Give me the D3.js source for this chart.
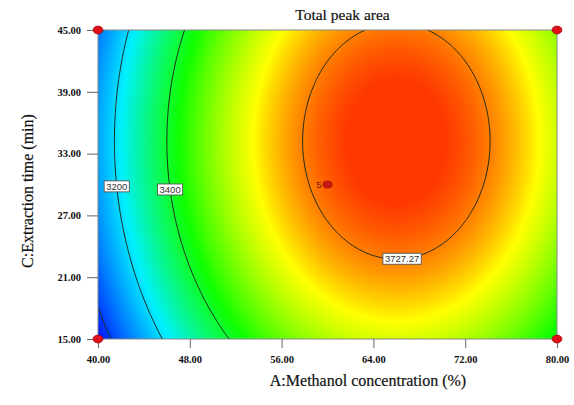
<!DOCTYPE html>
<html>
<head>
<meta charset="utf-8">
<script src="https://cdn.jsdelivr.net/npm/d3@7"></script>
<style>
  body { margin: 0; background: #fff; }
  .tick text { font-family: "Liberation Serif", serif; font-weight: bold; font-size: 10.5px; fill: #111; }
</style>
</head>
<body>
<div class="chart"></div>
<script>
// Axis ranges and ticks
const aRange = [40, 80];
const cRange = [15, 45];
const xTicks = [40, 48, 56, 64, 72, 80];
const yTicks = [15, 21, 27, 33, 39, 45];

// Quadratic response model for total peak area (terms: 1, A, C, A², C², AC)
const modelTerms = ["1", "A", "C", "A2", "C2", "AC"];
const modelCoefs = [-1069.61, 129.624, 34.2, -0.982, -0.5, 0];

// Contour levels and where their labels sit
const levels = [3000, 3200, 3400, 3727.27];
const labelLevels = [3200, 3400, 3727.27];
const labelText = ["3200", "3400", "3727.27"];
const labelAt = [{ C: 29.8 }, { C: 29.5 }, { A: 66.5 }];

// colour ramp: blue, cyan, green, yellow, red at these response levels
const rampLevels = [2945, 3225, 3440, 3640, 3775];
const rampColors = ["#0010ff", "#00f0ff", "#10ff00", "#ffff00", "#ff3800"];

// Design points
const designA = [40, 40, 80, 80, 60];
const designC = [15, 45, 15, 45, 30];
const designLabel = ["", "", "", "", "5"];

const W = 574, H = 405;
const margin = { top: 30, right: 17, bottom: 66, left: 98 };
const width = W - margin.left - margin.right;
const height = H - margin.top - margin.bottom;

function model(a, c) {
  const b = modelCoefs;
  return b[0] + b[1] * a + b[2] * c + b[3] * a * a + b[4] * c * c + b[5] * a * c;
}

const x = d3.scaleLinear().domain(aRange).range([0, width]);
const y = d3.scaleLinear().domain(cRange).range([height, 0]);

const svg = d3.select(".chart").append("svg")
  .attr("width", W).attr("height", H)
  .append("g")
  .attr("transform", `translate(${margin.left},${margin.top})`);

// sample grid
const nx = 201, ny = 151;
const stepA = (aRange[1] - aRange[0]) / (nx - 1);
const stepC = (cRange[1] - cRange[0]) / (ny - 1);
const grid = new Float64Array(nx * ny);
for (let j = 0; j < ny; j++) {
  for (let i = 0; i < nx; i++) {
    grid[j * nx + i] = model(aRange[0] + i * stepA, cRange[0] + j * stepC);
  }
}

const color = d3.scaleLinear()
  .domain(rampLevels)
  .range(rampColors)
  .clamp(true);

// colour field painted on a canvas, then put in the svg
const canvas = document.createElement("canvas");
canvas.width = Math.round(width);
canvas.height = Math.round(height);
const ctx = canvas.getContext("2d");
const img = ctx.createImageData(canvas.width, canvas.height);
for (let py = 0; py < canvas.height; py++) {
  for (let px = 0; px < canvas.width; px++) {
    const c = d3.rgb(color(model(x.invert(px + 0.5), y.invert(py + 0.5))));
    const k = (py * canvas.width + px) * 4;
    img.data[k] = c.r; img.data[k + 1] = c.g; img.data[k + 2] = c.b; img.data[k + 3] = 255;
  }
}
ctx.putImageData(img, 0, 0);

svg.append("image")
  .attr("x", 0).attr("y", 0)
  .attr("width", width).attr("height", height)
  .attr("preserveAspectRatio", "none")
  .attr("href", canvas.toDataURL());

svg.append("clipPath").attr("id", "plotclip")
  .append("rect").attr("width", width).attr("height", height);

// contour lines
const contours = d3.contours().size([nx, ny]).thresholds(levels)(grid);
const proj = d3.geoTransform({
  point: function (gx, gy) {
    this.stream.point(x(aRange[0] + (gx - 0.5) * stepA), y(cRange[0] + (gy - 0.5) * stepC));
  }
});
svg.append("g").attr("clip-path", "url(#plotclip)")
  .selectAll("path")
  .data(contours)
  .enter()
  .append("path")
  .attr("d", d3.geoPath(proj))
  .attr("fill", "none")
  .attr("stroke", "#1c2a1c")
  .attr("stroke-width", 1);

// contour labels: find the point on the line by bisection
function solveA(level, c) {
  let lo = aRange[0], hi = 66;
  for (let k = 0; k < 50; k++) {
    const mid = (lo + hi) / 2;
    if (model(mid, c) < level) lo = mid; else hi = mid;
  }
  return (lo + hi) / 2;
}
function solveC(level, a) {
  let lo = cRange[0], hi = 34;
  for (let k = 0; k < 50; k++) {
    const mid = (lo + hi) / 2;
    if (model(a, mid) < level) lo = mid; else hi = mid;
  }
  return (lo + hi) / 2;
}
labelLevels.forEach((lv, i) => {
  const p = labelAt[i];
  const a = p.A !== undefined ? p.A : solveA(lv, p.C);
  const c = p.C !== undefined ? p.C : solveC(lv, p.A);
  const g = svg.append("g").attr("transform", `translate(${x(a)},${y(c)})`);
  const t = g.append("text")
    .attr("text-anchor", "middle")
    .attr("dy", "0.35em")
    .style("font-family", "'Liberation Sans', Arial, sans-serif")
    .style("font-size", "9.5px")
    .style("fill", "#333")
    .text(labelText[i]);
  const bb = t.node().getBBox();
  g.insert("rect", "text")
    .attr("x", bb.x - 2).attr("y", bb.y)
    .attr("width", bb.width + 4).attr("height", bb.height)
    .attr("fill", "#fff")
    .attr("stroke", "#555")
    .attr("stroke-width", 0.9);
});

// frame
svg.append("rect")
  .attr("width", width).attr("height", height)
  .attr("fill", "none")
  .attr("stroke", "#888")
  .attr("stroke-width", 1);

// axes
const fmt = d3.format(".2f");
const xAxis = svg.append("g")
  .attr("transform", `translate(0,${height})`)
  .call(d3.axisBottom(x).tickValues(xTicks).tickFormat(fmt).tickSize(9).tickPadding(8));
const yAxis = svg.append("g")
  .call(d3.axisLeft(y).tickValues(yTicks).tickFormat(fmt).tickSize(11).tickPadding(6));
[xAxis, yAxis].forEach(ax => {
  ax.select(".domain").remove();
  ax.selectAll(".tick line").attr("stroke", "#666");
});

// design points
svg.selectAll(".dpt")
  .data(designA)
  .enter()
  .append("ellipse")
  .attr("class", "dpt")
  .attr("cx", d => x(d))
  .attr("cy", (d, i) => y(designC[i]))
  .attr("rx", (d, i) => designLabel[i] ? 4.5 : 5)
  .attr("ry", (d, i) => designLabel[i] ? 3.5 : 4)
  .attr("fill", (d, i) => designLabel[i] ? "#c81818" : "#e0101a")
  .attr("stroke", "#8a0000")
  .attr("stroke-width", 0.6);

designLabel.forEach((lab, i) => {
  if (!lab) return;
  svg.append("text")
    .attr("x", x(designA[i]) - 6)
    .attr("y", y(designC[i]))
    .attr("dy", "0.35em")
    .attr("text-anchor", "end")
    .style("font-family", "'Liberation Sans', Arial, sans-serif")
    .style("font-size", "9.5px")
    .style("fill", "#7a1a10")
    .text(lab);
});

// titles
svg.append("text")
  .attr("x", 244.5).attr("y", -10)
  .attr("text-anchor", "middle")
  .style("font-family", "'Liberation Serif', serif")
  .style("font-size", "15.5px")
  .style("fill", "#111")
  .style("stroke", "#111")
  .style("stroke-width", 0.2)
  .text("Total peak area");

svg.append("text")
  .attr("x", 270).attr("y", height + 47)
  .attr("text-anchor", "middle")
  .style("font-family", "'Liberation Serif', serif")
  .style("font-size", "16px")
  .style("fill", "#111")
  .style("stroke", "#111")
  .style("stroke-width", 0.2)
  .text("A:Methanol concentration (%)");

svg.append("text")
  .attr("transform", `translate(${-65},${161}) rotate(-90)`)
  .attr("text-anchor", "middle")
  .style("font-family", "'Liberation Serif', serif")
  .style("font-size", "16px")
  .style("fill", "#111")
  .style("stroke", "#111")
  .style("stroke-width", 0.2)
  .text("C:Extraction time (min)");
</script>
</body>
</html>
